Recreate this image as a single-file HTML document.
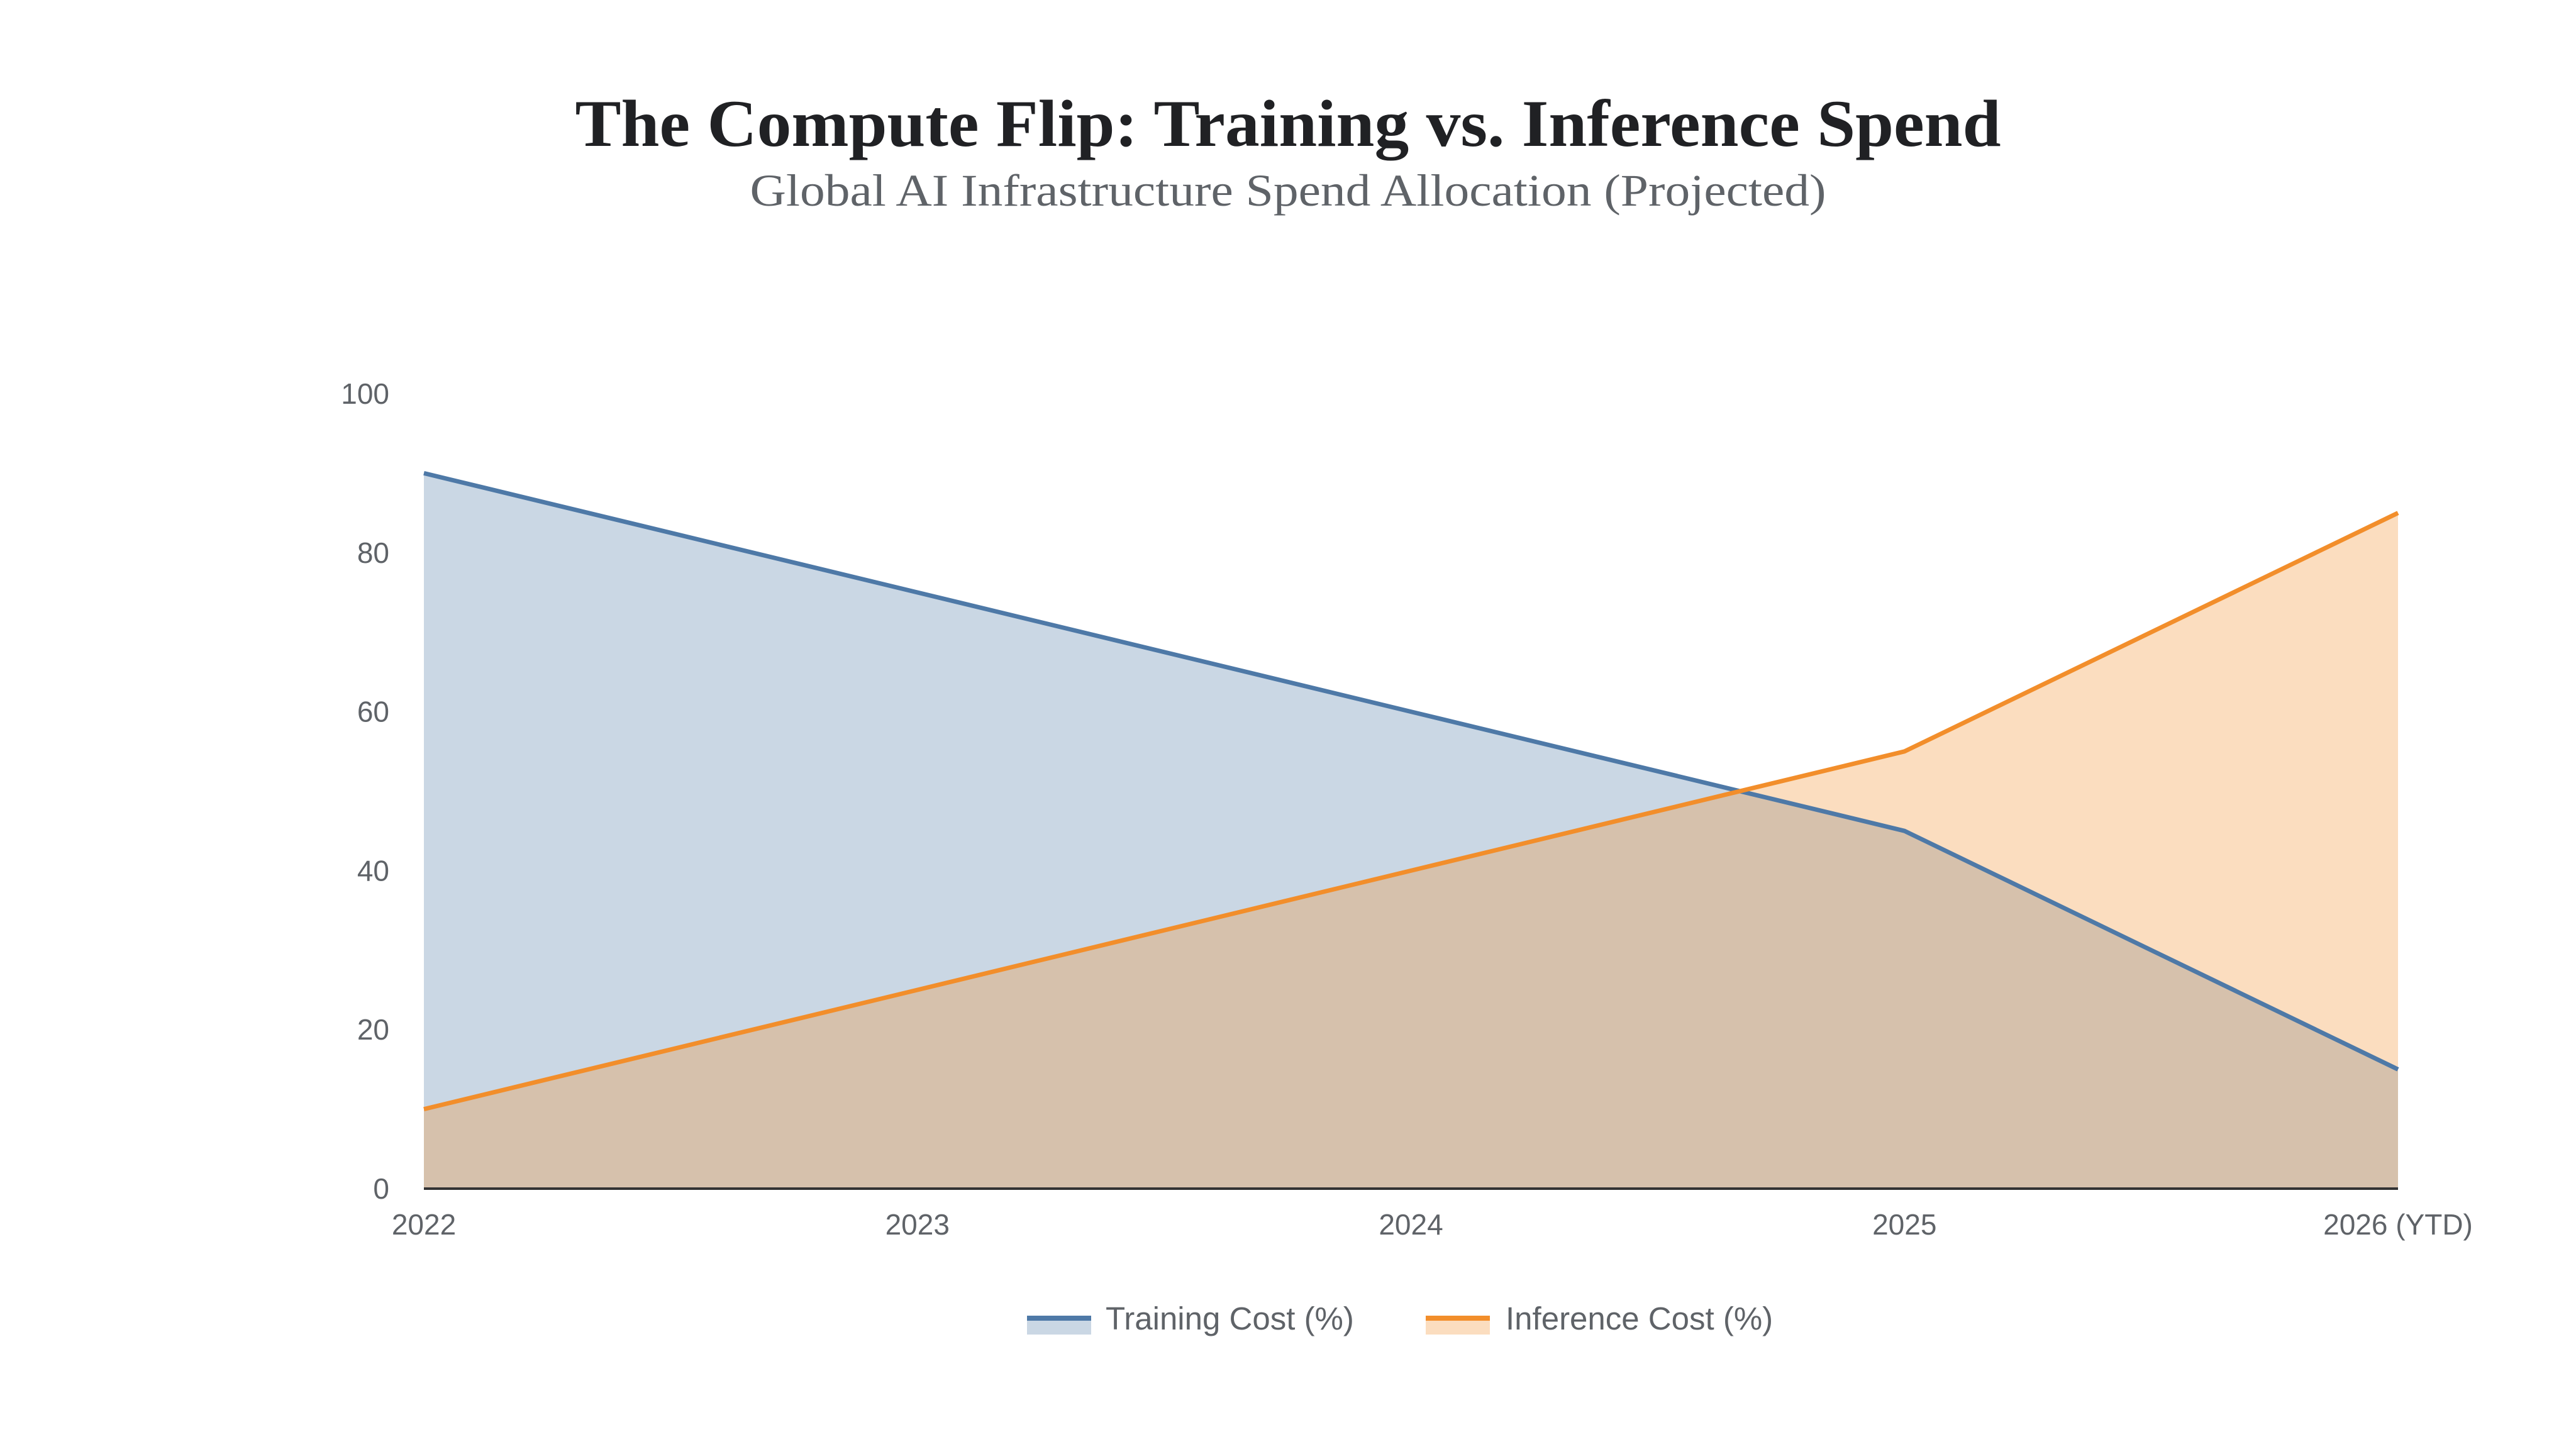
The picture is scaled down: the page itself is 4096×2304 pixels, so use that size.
<!DOCTYPE html>
<html><head><meta charset="utf-8"><style>
html,body{margin:0;padding:0;background:#fff;width:4096px;height:2304px;overflow:hidden}
svg{display:block}
</style></head><body>
<svg id="chart" width="4096" height="2304" viewBox="0 0 4096 2304" xmlns="http://www.w3.org/2000/svg">
<text x="2048" y="232" text-anchor="middle" font-family="'Liberation Serif',serif" font-weight="bold" font-size="106" fill="#202124" textLength="2267" lengthAdjust="spacingAndGlyphs">The Compute Flip: Training vs. Inference Spend</text>
<text x="2048" y="327" text-anchor="middle" font-family="'Liberation Serif',serif" font-size="72" fill="#5f6368" textLength="1711" lengthAdjust="spacingAndGlyphs">Global AI Infrastructure Spend Allocation (Projected)</text>
<g id="plot"></g>
<g id="legend">
<g>
<rect x="1633" y="2100" width="102" height="22" fill="#4e79a7" fill-opacity="0.3"/>
<rect x="1633" y="2092" width="102" height="8" fill="#4e79a7"/>
<text x="1758" y="2114" font-family="'Liberation Sans',sans-serif" font-size="51" fill="#5f6368">Training Cost (%)</text>
</g>
<g>
<rect x="2267" y="2100" width="102" height="22" fill="#f28e2b" fill-opacity="0.3"/>
<rect x="2267" y="2092" width="102" height="8" fill="#f28e2b"/>
<text x="2394" y="2114" font-family="'Liberation Sans',sans-serif" font-size="51" fill="#5f6368">Inference Cost (%)</text>
</g>
</g>
</svg>
<script>
const categories = ["2022","2023","2024","2025","2026 (YTD)"];
const trainingValues = [90,75,60,45,15];
const inferenceValues = [10,25,40,55,85];
const yTicks = [0,20,40,60,80,100];

const NS="http://www.w3.org/2000/svg";
const X0=674, X1=3813, Y0=1890, Y100=626;
const xScale=i=>X0+(X1-X0)*i/(categories.length-1);
const yScale=v=>Y0-(Y0-Y100)*v/100;
const plot=document.getElementById('plot');
function mk(tag,attrs){const e=document.createElementNS(NS,tag);for(const k in attrs)e.setAttribute(k,attrs[k]);return e;}

yTicks.forEach(t=>{
  const e=mk('text',{x:619,y:yScale(t)+16,'text-anchor':'end','font-family':"'Liberation Sans',sans-serif",'font-size':46,fill:'#5f6368'});
  e.textContent=t;
  
  
  plot.appendChild(e);
});

function series(vals,color,name){
  const pts=vals.map((v,i)=>xScale(i)+','+yScale(v));
  const area=mk('polygon',{points:pts.join(' ')+' '+xScale(vals.length-1)+','+Y0+' '+xScale(0)+','+Y0,fill:color,'fill-opacity':0.3});
  
  
  plot.appendChild(area);
  return pts;
}
const tp=series(trainingValues,'#4e79a7','training');
const ip=series(inferenceValues,'#f28e2b','inference');
const tl=mk('polyline',{points:tp.join(' '),fill:'none',stroke:'#4e79a7','stroke-width':7});


plot.appendChild(tl);
const il=mk('polyline',{points:ip.join(' '),fill:'none',stroke:'#f28e2b','stroke-width':7});


plot.appendChild(il);

const ax=mk('line',{x1:X0,x2:X1,y1:Y0,y2:Y0,stroke:'#333','stroke-width':4});


plot.appendChild(ax);

categories.forEach((c,i)=>{
  const e=mk('text',{x:xScale(i),y:1963,'text-anchor':'middle','font-family':"'Liberation Sans',sans-serif",'font-size':46,fill:'#5f6368'});
  e.textContent=c;
  
  
  plot.appendChild(e);
});
</script>
</body></html>
